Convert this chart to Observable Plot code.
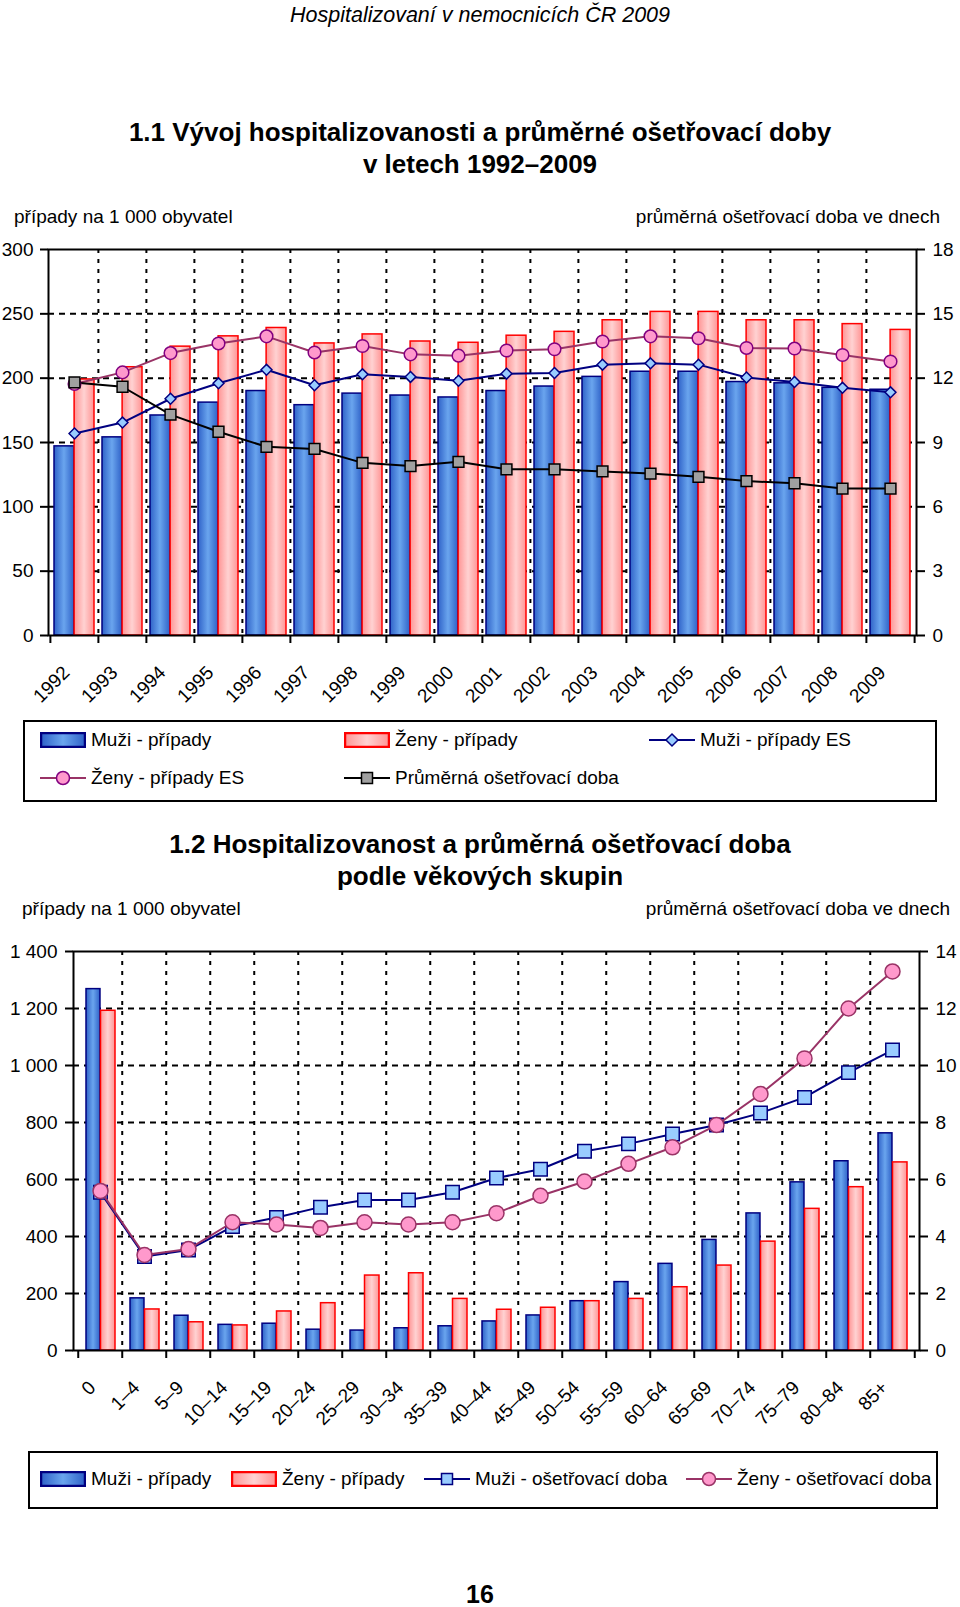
<!DOCTYPE html>
<html>
<head>
<meta charset="utf-8">
<script src="https://cdn.jsdelivr.net/npm/d3@7"></script>
<script src="https://cdn.jsdelivr.net/npm/@observablehq/plot@0.6"></script>
<style>
  html, body { margin: 0; padding: 0; background: #fff; }
  body { font-family: "Liberation Sans", Arial, sans-serif; color: #000; }
  #page { position: relative; width: 960px; height: 1607px; overflow: hidden; }
  .abs { position: absolute; white-space: nowrap; }
  .hdr { font-style: italic; font-size: 21.5px; line-height: 22px; width: 960px; text-align: center; left: 0; }
  .title { font-weight: bold; font-size: 26px; line-height: 31.5px; width: 960px; text-align: center; left: 0; }
  .axt { font-size: 19px; line-height: 19px; }
  .legend { position: absolute; border: 2px solid #000; box-sizing: border-box; background: #fff; }
  .li { position: absolute; font-size: 19px; line-height: 20px; display: flex; align-items: center; white-space: nowrap; }
  .li svg { margin-right: 5px; flex: none; }
  .chart { position: absolute; left: 0; }
</style>
</head>
<body>
<svg width="0" height="0" style="position:absolute">
  <defs>
    <linearGradient id="gBlue" x1="0" x2="1" y1="0" y2="0">
      <stop offset="0" stop-color="#2f62c8"/>
      <stop offset="0.5" stop-color="#6aa5ee"/>
      <stop offset="1" stop-color="#2f62c8"/>
    </linearGradient>
    <linearGradient id="gPink" x1="0" x2="1" y1="0" y2="0">
      <stop offset="0" stop-color="#ff9494"/>
      <stop offset="0.5" stop-color="#ffd2d2"/>
      <stop offset="1" stop-color="#ff9494"/>
    </linearGradient>
  </defs>
</svg>
<div id="page">
  <div class="abs hdr" style="top:4px">Hospitalizovaní v nemocnicích ČR 2009</div>
  <div class="abs title" style="top:117px">1.1 Vývoj hospitalizovanosti a průměrné ošetřovací doby<br>v letech 1992–2009</div>
  <div class="abs axt" style="top:207px; left:14px">případy na 1 000 obyvatel</div>
  <div class="abs axt" style="top:207px; right:20px">průměrná ošetřovací doba ve dnech</div>
  <div id="chart1" class="chart" style="top:240px"></div>
  <div id="legend1" class="legend" style="left:23px; top:720px; width:914px; height:82px"></div>

  <div class="abs title" style="top:829px">1.2 Hospitalizovanost a průměrná ošetřovací doba<br>podle věkových skupin</div>
  <div class="abs axt" style="top:899px; left:22px">případy na 1 000 obyvatel</div>
  <div class="abs axt" style="top:899px; right:10px">průměrná ošetřovací doba ve dnech</div>
  <div id="chart2" class="chart" style="top:940px"></div>
  <div id="legend2" class="legend" style="left:28px; top:1451px; width:910px; height:58px"></div>

  <div class="abs" style="top:1585px; left:0; width:960px; text-align:center; font-weight:bold; font-size:25px; line-height:18px">16</div>
</div>
<script>
// ---------- Data: chart 1.1 ----------
const years = ["1992","1993","1994","1995","1996","1997","1998","1999","2000","2001","2002","2003","2004","2005","2006","2007","2008","2009"];
const muziPripady = [147,154,171,181,190,179,188,186.5,185,190,193.5,201,205,205,197,196,192.5,191];
const zenyPripady = [199,208.5,224.5,232.5,239,227,234,228.5,227.5,233,236,245,251.5,251.5,245,245,242,237.5];
const muziPripadyES = [157,165.5,184,196,206.5,194.5,203,201,198,203.5,204,210.5,211.5,210.5,200.5,197,192.5,189];
const zenyPripadyES = [195.5,204.5,219.5,227,232.5,220,225,218.5,217.5,221.5,222.5,228.5,232.5,231,223.5,223,218,213];
const prumernaDoba = [11.8,11.6,10.3,9.5,8.8,8.7,8.05,7.9,8.1,7.75,7.75,7.65,7.55,7.4,7.2,7.1,6.85,6.85];
const leftTicks1 = [0,50,100,150,200,250,300];
const rightTicks1 = [0,3,6,9,12,15,18];

// ---------- Data: chart 1.2 ----------
const ageGroups = ["0","1–4","5–9","10–14","15–19","20–24","25–29","30–34","35–39","40–44","45–49","50–54","55–59","60–64","65–69","70–74","75–79","80–84","85+"];
const muziPripadyVek = [1268,183,122,90,94,73,70,78,85,102,123,173,240,304,388,481,590,664,762];
const zenyPripadyVek = [1192,144,99,88,137,166,263,271,181,143,150,173,181,222,298,382,497,573,660];
const muziDobaVek = [5.55,3.3,3.53,4.35,4.67,5.03,5.28,5.28,5.55,6.05,6.36,6.99,7.25,7.6,7.91,8.33,8.88,9.75,10.54];
const zenyDobaVek = [5.6,3.35,3.56,4.5,4.42,4.3,4.5,4.42,4.5,4.82,5.43,5.93,6.55,7.13,7.91,9.0,10.25,12.0,13.3];
const leftTicks2 = [0,200,400,600,800,1000,1200,1400];
const rightTicks2 = [0,2,4,6,8,10,12,14];

const FONT = "'Liberation Sans', Arial, sans-serif";
const BLUE = "#000080", RED = "#ff0000", MAUVE = "#993366";

// ---------- Chart 1 ----------
{
  const W = 960, H = 470, mL = 48, mR = 44, mT = 9, mB = 75;
  const bw = (W - mL - mR) / years.length;
  const k = 300 / 18; // right axis (days) mapped to left axis
  const rows = years.map((y, i) => ({
    year: y, muzi: muziPripady[i], zeny: zenyPripady[i],
    muziES: muziPripadyES[i], zenyES: zenyPripadyES[i], doba: prumernaDoba[i] * k
  }));
  const chart = Plot.plot({
    width: W, height: H, marginLeft: mL, marginRight: mR, marginTop: mT, marginBottom: mB,
    style: {fontFamily: FONT, fontSize: "19px", color: "#000", background: "transparent", overflow: "visible"},
    x: {domain: years, padding: 0, label: null},
    y: {domain: [0, 300], label: null},
    marks: [
      Plot.ruleY(leftTicks1.filter(d => d > 0 && d < 300), {stroke: "#000", strokeWidth: 2, strokeDasharray: "6,5"}),
      Plot.ruleX(years.slice(1), {x: d => d, dx: -bw / 2, stroke: "#000", strokeWidth: 2, strokeDasharray: "4,6"}),
      Plot.barY(rows, {x: "year", y: "muzi", fill: "url(#gBlue)", stroke: BLUE, strokeWidth: 1.5, insetLeft: 4, insetRight: bw / 2}),
      Plot.barY(rows, {x: "year", y: "zeny", fill: "url(#gPink)", stroke: RED, strokeWidth: 1.5, insetLeft: bw / 2, insetRight: 4}),
      Plot.line(rows, {x: "year", y: "zenyES", stroke: MAUVE, strokeWidth: 2}),
      Plot.line(rows, {x: "year", y: "muziES", stroke: BLUE, strokeWidth: 2}),
      Plot.line(rows, {x: "year", y: "doba", stroke: "#000", strokeWidth: 2}),
      Plot.dot(rows, {x: "year", y: "zenyES", r: 6.3, fill: "#ff99cc", stroke: "#800080", strokeWidth: 1.5}),
      Plot.dot(rows, {x: "year", y: "muziES", symbol: "diamond2", r: 4.9, fill: "#99ccff", stroke: BLUE, strokeWidth: 1.5}),
      Plot.dot(rows, {x: "year", y: "doba", symbol: "square", r: 6.1, fill: "#a0a0a0", stroke: "#000", strokeWidth: 1.5}),
      Plot.frame({stroke: "#000", strokeWidth: 2}),
      Plot.axisY(leftTicks1, {anchor: "left", tickSize: 8, tickPadding: 7, strokeWidth: 2, label: null}),
      Plot.axisY(rightTicks1.map(d => d * k), {anchor: "right", tickSize: 8, tickPadding: 8, strokeWidth: 2, label: null, tickFormat: d => String(Math.round(d / k))}),
      Plot.axisX(years, {tickSize: 8, strokeWidth: 2, dx: -bw / 2, tickFormat: () => "", label: null}),
      Plot.axisX([years[years.length - 1]], {tickSize: 8, strokeWidth: 2, dx: bw / 2, tickFormat: () => "", label: null}),
      Plot.axisX(years, {tickSize: 0, tickPadding: 34, tickRotate: -45, dx: -8, label: null})
    ]
  });
  document.getElementById("chart1").append(chart);
}

// ---------- Chart 2 ----------
{
  const W = 960, H = 480, mL = 73, mR = 41, mT = 11, mB = 70;
  const bw = (W - mL - mR) / ageGroups.length;
  const k = 1400 / 14;
  const rows = ageGroups.map((a, i) => ({
    age: a, muzi: muziPripadyVek[i], zeny: zenyPripadyVek[i],
    muziDoba: muziDobaVek[i] * k, zenyDoba: zenyDobaVek[i] * k
  }));
  const fmt = d => d >= 1000 ? d3.format(",")(d).replace(",", " ") : String(d);
  const chart = Plot.plot({
    width: W, height: H, marginLeft: mL, marginRight: mR, marginTop: mT, marginBottom: mB,
    style: {fontFamily: FONT, fontSize: "19px", color: "#000", background: "transparent", overflow: "visible"},
    x: {domain: ageGroups, padding: 0, label: null},
    y: {domain: [0, 1400], label: null},
    marks: [
      Plot.ruleY(leftTicks2.filter(d => d > 0 && d < 1400), {stroke: "#000", strokeWidth: 2, strokeDasharray: "6,5"}),
      Plot.ruleX(ageGroups.slice(1), {x: d => d, dx: -bw / 2, stroke: "#000", strokeWidth: 2, strokeDasharray: "4,6"}),
      Plot.barY(rows, {x: "age", y: "muzi", fill: "url(#gBlue)", stroke: BLUE, strokeWidth: 1.5, insetLeft: 8, insetRight: bw - 22.5}),
      Plot.barY(rows, {x: "age", y: "zeny", fill: "url(#gPink)", stroke: RED, strokeWidth: 1.5, insetLeft: 22.5, insetRight: 7}),
      Plot.line(rows, {x: "age", y: "muziDoba", stroke: BLUE, strokeWidth: 2}),
      Plot.dot(rows, {x: "age", y: "muziDoba", symbol: "square", r: 7.6, fill: "#99ccff", stroke: BLUE, strokeWidth: 1.5}),
      Plot.line(rows, {x: "age", y: "zenyDoba", stroke: MAUVE, strokeWidth: 2}),
      Plot.dot(rows, {x: "age", y: "zenyDoba", r: 7.5, fill: "#ff99cc", stroke: MAUVE, strokeWidth: 1.5}),
      Plot.frame({stroke: "#000", strokeWidth: 2}),
      Plot.axisY(leftTicks2, {anchor: "left", tickSize: 8, tickPadding: 8, strokeWidth: 2, label: null, tickFormat: fmt}),
      Plot.axisY(rightTicks2.map(d => d * k), {anchor: "right", tickSize: 8, tickPadding: 8, strokeWidth: 2, label: null, tickFormat: d => String(Math.round(d / k))}),
      Plot.axisX(ageGroups, {tickSize: 8, strokeWidth: 2, dx: -bw / 2, tickFormat: () => "", label: null}),
      Plot.axisX([ageGroups[ageGroups.length - 1]], {tickSize: 8, strokeWidth: 2, dx: bw / 2, tickFormat: () => "", label: null}),
      Plot.axisX(ageGroups, {tickSize: 0, tickPadding: 34, tickRotate: -45, dx: -8, label: null})
    ]
  });
  document.getElementById("chart2").append(chart);
}

// ---------- Legends ----------
const swatchBar = (grad, stroke) =>
  `<svg width="46" height="16"><rect x="1" y="1" width="44" height="14" fill="url(#${grad})" stroke="${stroke}" stroke-width="2.5"/></svg>`;
const swatchLine = (stroke, marker) =>
  `<svg width="46" height="18"><line x1="0" x2="46" y1="9" y2="9" stroke="${stroke}" stroke-width="2"/>${marker}</svg>`;
const mDiamond = `<path d="M23,3 L29,9 L23,15 L17,9 Z" fill="#99ccff" stroke="${BLUE}" stroke-width="1.5"/>`;
const mCircle = (s) => `<circle cx="23" cy="9" r="6.5" fill="#ff99cc" stroke="${s}" stroke-width="1.5"/>`;
const mSquare = (f, s) => `<rect x="17.5" y="3.5" width="11" height="11" fill="${f}" stroke="${s}" stroke-width="1.5"/>`;

const legend1 = [
  {x: 40, y: 740, sw: swatchBar("gBlue", BLUE), t: "Muži - případy"},
  {x: 344, y: 740, sw: swatchBar("gPink", RED), t: "Ženy - případy"},
  {x: 649, y: 740, sw: swatchLine(BLUE, mDiamond), t: "Muži - případy ES"},
  {x: 40, y: 778, sw: swatchLine(MAUVE, mCircle("#800080")), t: "Ženy - případy ES"},
  {x: 344, y: 778, sw: swatchLine("#000", mSquare("#a0a0a0", "#000")), t: "Průměrná ošetřovací doba"}
];
const legend2 = [
  {x: 40, y: 1479, sw: swatchBar("gBlue", BLUE), t: "Muži - případy"},
  {x: 231, y: 1479, sw: swatchBar("gPink", RED), t: "Ženy - případy"},
  {x: 424, y: 1479, sw: swatchLine(BLUE, mSquare("#99ccff", BLUE)), t: "Muži - ošetřovací doba"},
  {x: 686, y: 1479, sw: swatchLine(MAUVE, mCircle(MAUVE)), t: "Ženy - ošetřovací doba"}
];
const page = document.getElementById("page");
for (const it of [...legend1, ...legend2]) {
  const d = document.createElement("div");
  d.className = "li";
  d.style.left = it.x + "px";
  d.style.top = (it.y - 10) + "px";
  d.style.height = "20px";
  d.innerHTML = it.sw + `<span>${it.t}</span>`;
  page.append(d);
}
</script>
</body>
</html>
